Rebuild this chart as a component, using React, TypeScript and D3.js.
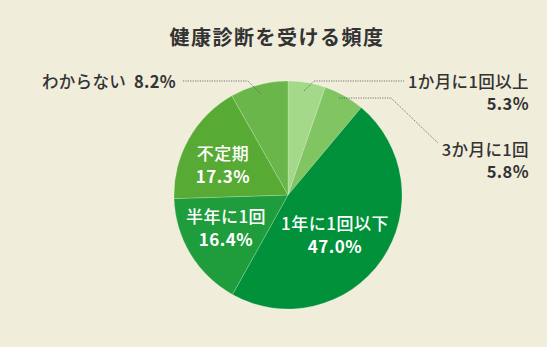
import React from "react";
import * as d3 from "d3";

const categories = ["1か月に1回以上", "3か月に1回", "1年に1回以下", "半年に1回", "不定期", "わからない"];
const values = [5.3, 5.8, 47.0, 16.4, 17.3, 8.2];
const colors = ["#a4d98a", "#80c562", "#00913a", "#1f9d3d", "#57aa34", "#6bb64b"];
const title = "健康診断を受ける頻度";

const W = 547;
const H = 347;
const cx = 288;
const cy = 195;
const R = 114;
const FONT = "'Noto Sans CJK JP', 'Noto Sans', sans-serif";

export default function App() {
  const pie = d3.pie<number>().value((d) => d).sort(null)(values);
  const arc = d3.arc<d3.PieArcDatum<number>>().innerRadius(0).outerRadius(R);
  const fmt = (v: number) => v.toFixed(1) + "%";

  return (
    <svg width={W} height={H} style={{ position: "absolute", left: 0, top: 0 }}>
      <rect width={W} height={H} fill="#f0eddb" />
      <text x={277} y={45} textAnchor="middle" fontFamily={FONT} fontSize={20} fontWeight={700} letterSpacing={1.5} fill="#333">
        {title}
      </text>
      <g transform={`translate(${cx},${cy})`}>
        {pie.map((p, i) => (
          <path key={i} d={arc(p) || ""} fill={colors[i]} stroke="rgba(255,255,255,0.25)" strokeWidth={0.8} />
        ))}
      </g>
      {/* leader lines */}
      <g fill="none" stroke="#555" strokeWidth={0.8} strokeDasharray="1.2,1.2">
        <polyline points="183,81 248,81 261,94" />
        <polyline points="304,91 314,81 404,81" />
        <polyline points="339,98 391,98 438,143" />
      </g>
      {/* outer labels */}
      <g fontFamily={FONT} fill="#333" fontSize={16.5}>
        <text x={42} y={88} fontWeight={500} letterSpacing={0.3}>
          {categories[5]}
          <tspan fontWeight={700} dx={8}>{fmt(values[5])}</tspan>
        </text>
        <text x={529} y={88} textAnchor="end" fontWeight={500} letterSpacing={0.4}>{categories[0]}</text>
        <text x={529} y={110} textAnchor="end" fontWeight={700} letterSpacing={0.4}>{fmt(values[0])}</text>
        <text x={529} y={156} textAnchor="end" fontWeight={500} letterSpacing={0.4}>{categories[1]}</text>
        <text x={529} y={178} textAnchor="end" fontWeight={700} letterSpacing={0.4}>{fmt(values[1])}</text>
      </g>
      {/* inner labels */}
      <g fontFamily={FONT} fill="#fff" textAnchor="middle" fontSize={17} letterSpacing={0.5}>
        <text x={223} y={160} fontWeight={500}>{categories[4]}</text>
        <text x={223} y={183} fontWeight={700}>{fmt(values[4])}</text>
        <text x={226} y={223} fontWeight={500}>{categories[3]}</text>
        <text x={226} y={246} fontWeight={700}>{fmt(values[3])}</text>
        <text x={335} y={230} fontWeight={500}>{categories[2]}</text>
        <text x={335} y={253} fontWeight={700}>{fmt(values[2])}</text>
      </g>
    </svg>
  );
}
